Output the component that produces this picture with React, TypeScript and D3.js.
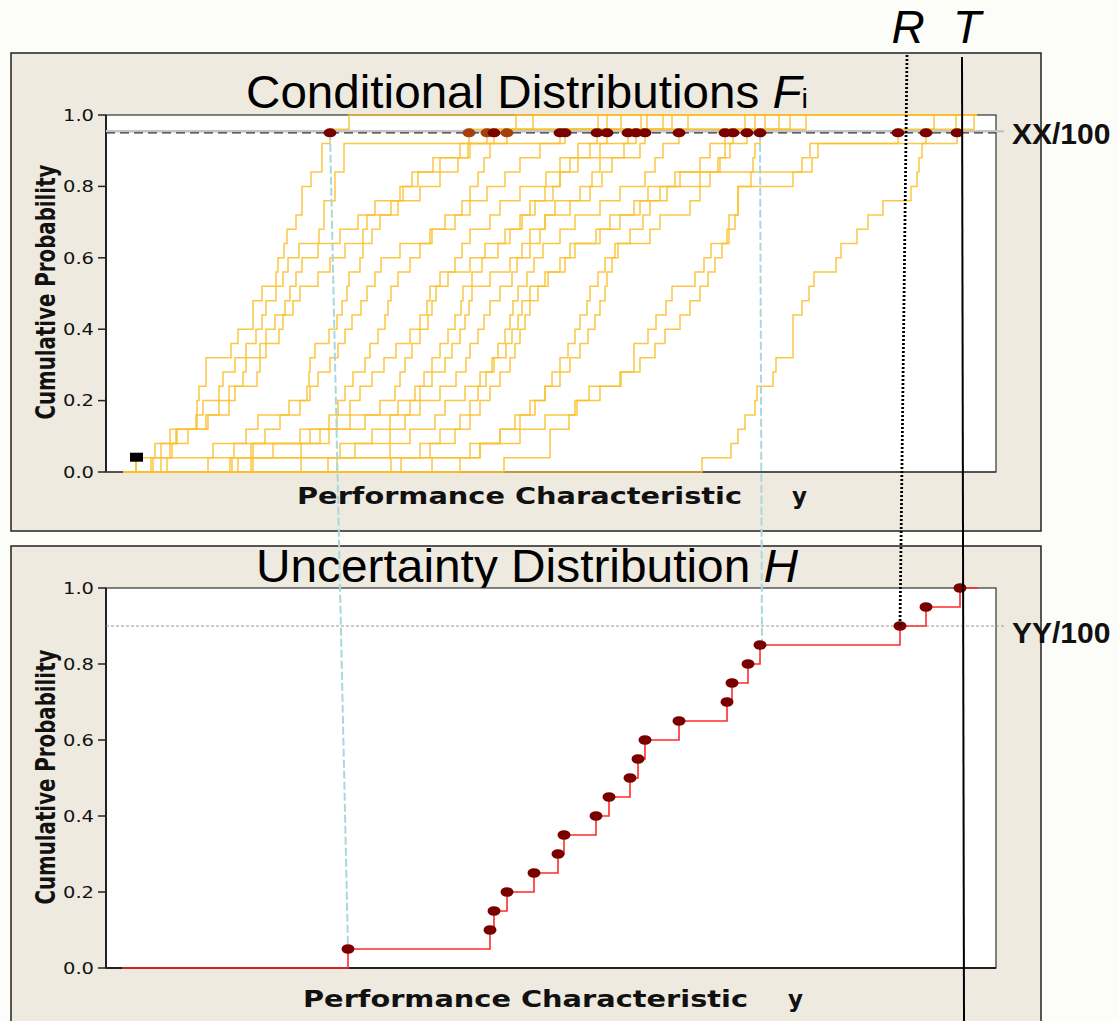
import React from 'react';
import * as d3 from 'd3';

// ---------- data (Performance Characteristic in arbitrary units) ----------
const probTicks = [0, 0.2, 0.4, 0.6, 0.8, 1.0];
const probTickLabels = ['0.0', '0.2', '0.4', '0.6', '0.8', '1.0'];
const sampleSize = 25; // each conditional ECDF has 25 observations

// Conditional distributions F_i: sorted observations of each ECDF
const fA = [36, 55, 70, 96, 97, 99, 106, 106, 131, 138, 153, 153, 162, 176, 178, 184, 187, 196, 202, 202, 211, 222, 222, 230, 249];
const fB = [51, 61, 76, 97, 103, 119, 123, 135, 146, 156, 162, 166, 176, 183, 188, 199, 219, 224, 224, 235, 235, 244, 244, 387, 433];
const fC = [53, 70, 77, 106, 119, 129, 143, 146, 160, 166, 175, 185, 190, 196, 202, 218, 240, 258, 275, 300, 318, 340, 370, 394, 498];
const fD = [108, 113, 146, 158, 189, 207, 209, 210, 215, 229, 237, 242, 247, 249, 260, 263, 263, 267, 291, 303, 312, 333, 360, 369, 416];
const fE = [61, 72, 88, 108, 129, 135, 157, 160, 166, 179, 183, 193, 200, 218, 230, 245, 272, 280, 298, 320, 340, 358, 368, 407, 507];
const fF = [67, 134, 165, 180, 200, 210, 218, 230, 238, 245, 252, 261, 267, 275, 281, 300, 330, 345, 362, 370, 378, 384, 390, 460, 521];
const fG = [130, 151, 200, 229, 238, 245, 253, 265, 270, 278, 285, 288, 291, 298, 310, 320, 332, 355, 370, 387, 405, 420, 440, 465, 541];
const fH = [132, 153, 220, 237, 250, 260, 272, 284, 296, 310, 320, 327, 330, 340, 355, 362, 370, 390, 400, 420, 446, 460, 478, 497, 547];
const fI = [138, 173, 210, 250, 280, 295, 300, 305, 312, 320, 328, 332, 336, 348, 370, 385, 410, 420, 430, 445, 460, 470, 490, 507, 563];
const fJ = [151, 201, 229, 265, 298, 315, 324, 332, 340, 348, 355, 361, 363, 372, 382, 398, 405, 422, 435, 453, 460, 478, 500, 528, 572];
const fK = [153, 240, 272, 290, 310, 320, 332, 345, 352, 360, 365, 369, 372, 390, 410, 422, 430, 445, 470, 490, 502, 512, 524, 536, 588];
const fL = [201, 255, 290, 305, 320, 340, 356, 366, 370, 378, 384, 390, 400, 412, 417, 430, 440, 445, 455, 480, 492, 500, 540, 545, 645];
const fM = [228, 290, 310, 335, 345, 365, 380, 392, 398, 405, 410, 413, 418, 427, 434, 443, 460, 475, 500, 520, 545, 555, 563, 579, 655];
const fN = [237, 320, 340, 360, 370, 378, 386, 394, 406, 412, 418, 422, 430, 448, 460, 470, 500, 520, 540, 560, 580, 600, 610, 625, 679];
const fO = [291, 330, 355, 370, 380, 390, 400, 410, 415, 420, 425, 430, 438, 445, 465, 475, 496, 510, 534, 548, 600, 618, 625, 633, 706];
const fP = [301, 370, 400, 420, 435, 445, 452, 460, 468, 475, 480, 487, 490, 498, 505, 515, 550, 560, 590, 600, 610, 620, 630, 647, 665];
const fQ = [360, 380, 400, 415, 430, 445, 460, 470, 480, 488, 495, 500, 505, 507, 512, 518, 530, 543, 550, 567, 575, 712, 718, 798, 834];
const fR = [404, 450, 450, 469, 477, 489, 521, 534, 534, 548, 556, 566, 572, 595, 604, 611, 627, 629, 638, 638, 651, 653, 655, 660, 690];
const fS = [332, 380, 420, 445, 475, 500, 520, 540, 555, 565, 580, 590, 600, 608, 615, 622, 629, 635, 638, 638, 693, 702, 710, 857, 874];
const fT = [602, 631, 638, 645, 655, 657, 673, 676, 693, 693, 693, 702, 709, 714, 736, 741, 757, 768, 783, 811, 817, 819, 822, 826, 856];
const conditionalCurves = [fA, fB, fC, fD, fE, fF, fG, fH, fI, fJ, fK, fL, fM, fN, fO, fP, fQ, fR, fS, fT];
const orangeCurveIdx = [1, 3, 4];

// Uncertainty distribution H: the 20 quantiles, sorted
const hQuantiles = [248, 390, 394, 407, 434, 458, 464, 496, 509, 530, 538, 545, 579, 627, 632, 648, 660, 800, 826, 860];

const curveStart = 23;
const curveEnd = 877;
const xxLevel = 0.95;
const yyLevel = 0.9;
const firstSampleMarker = { x: 36, p: 0.04 };
const cyanLinks = [
  { fromX: 230, toX: 248, toP: 0.05 },
  { fromX: 660, toX: 662, toP: 0.85 },
];
const rLine = { topX: 807, bottomX: 800, bottomP: 0.9 };
const tLine = { topX: 862, bottomX: 864 };

export default function App() {
  const W = 1119, Hh = 1021;
  const plotL = 106, plotR = 996;
  const top = { panelY: 53, panelH: 478, plotT: 115, plotB: 472 };
  const bot = { panelY: 546, panelH: 520, plotT: 588, plotB: 968 };

  const x = d3.scaleLinear().domain([6, 896]).range([plotL, plotR]);
  const yTop = d3.scaleLinear().domain([0, 1]).range([top.plotB, top.plotT]);
  const yBot = d3.scaleLinear().domain([0, 1]).range([bot.plotB, bot.plotT]);

  const stepTop = d3.line<[number, number]>().x(d => x(d[0])).y(d => yTop(d[1])).curve(d3.curveStepAfter);
  const stepBot = d3.line<[number, number]>().x(d => x(d[0])).y(d => yBot(d[1])).curve(d3.curveStepAfter);

  const curvePts = (vals: number[]): [number, number][] => {
    const pts: [number, number][] = [[curveStart, 0]];
    vals.forEach((v, i) => pts.push([v, (i + 1) / sampleSize]));
    pts.push([curveEnd, 1]);
    return pts;
  };
  const hPts: [number, number][] = [[curveStart - 1, 0]];
  hQuantiles.forEach((v, i) => hPts.push([v, (i + 1) / hQuantiles.length]));
  hPts.push([curveEnd + 1, 1]);

  const panelFill = '#eeeae0';
  const titleFont = '"Liberation Sans", Arial, sans-serif';
  const tickFont = '"DejaVu Sans", Verdana, sans-serif';

  const yAxis = (ys: d3.ScaleLinear<number, number>, key: string) => (
    <g key={key}>
      {probTicks.map((t, i) => (
        <g key={i}>
          <line x1={plotL - 8} x2={plotL} y1={ys(t)} y2={ys(t)} stroke="#222" strokeWidth={1.5} />
          <text x={plotL - 12} y={ys(t)} dy="0.36em" textAnchor="end" fontFamily={tickFont} fontSize={16}
            textLength={31} lengthAdjust="spacingAndGlyphs" fill="#111">{probTickLabels[i]}</text>
        </g>
      ))}
    </g>
  );

  return (
    <svg width={W} height={Hh} style={{ position: 'absolute', left: 0, top: 0, background: '#fcfcf8' }}>
      {/* panels */}
      <rect x={11} y={top.panelY} width={1030} height={top.panelH} fill={panelFill} stroke="#222" strokeWidth={1.5} />
      <rect x={11} y={bot.panelY} width={1030} height={bot.panelH} fill={panelFill} stroke="#222" strokeWidth={1.5} />

      {/* titles */}
      <g transform={`translate(527,108) scale(1.035,1)`}>
        <text x={0} y={0} textAnchor="middle" fontFamily={titleFont} fontSize={46} fill="#000">
          Conditional Distributions <tspan fontStyle="italic">F</tspan><tspan fontSize={28}>i</tspan>
        </text>
      </g>
      <g transform={`translate(527,582) scale(1.04,1)`}>
        <text x={0} y={0} textAnchor="middle" fontFamily={titleFont} fontSize={46} fill="#000">
          Uncertainty Distribution <tspan fontStyle="italic">H</tspan>
        </text>
      </g>

      {/* plot areas */}
      <rect x={plotL} y={top.plotT} width={plotR - plotL} height={top.plotB - top.plotT} fill="#fff" stroke="#333" strokeWidth={1.2} />
      <rect x={plotL} y={bot.plotT} width={plotR - plotL} height={bot.plotB - bot.plotT} fill="#fff" stroke="#333" strokeWidth={1.2} />
      <line x1={plotL} x2={plotL} y1={top.plotT} y2={top.plotB} stroke="#222" strokeWidth={2} />
      <line x1={plotL} x2={plotL} y1={bot.plotT} y2={bot.plotB} stroke="#222" strokeWidth={2} />
      <line x1={plotL} x2={plotR} y1={bot.plotB} y2={bot.plotB} stroke="#222" strokeWidth={2} />
      <line x1={plotL} x2={plotR} y1={top.plotB} y2={top.plotB} stroke="#444" strokeWidth={1.5} />

      {yAxis(yTop, 'ytop')}
      {yAxis(yBot, 'ybot')}

      {/* y axis titles */}
      <text transform={`translate(55,292) rotate(-90)`} textAnchor="middle" fontFamily={tickFont} fontWeight="bold"
        fontSize={26} textLength={255} lengthAdjust="spacingAndGlyphs" fill="#111">Cumulative Probability</text>
      <text transform={`translate(55,777) rotate(-90)`} textAnchor="middle" fontFamily={tickFont} fontWeight="bold"
        fontSize={26} textLength={255} lengthAdjust="spacingAndGlyphs" fill="#111">Cumulative Probability</text>

      {/* x axis titles */}
      <text x={297} y={504} fontFamily={tickFont} fontWeight="bold" fontSize={23} textLength={445}
        lengthAdjust="spacingAndGlyphs" fill="#111">Performance Characteristic</text>
      <text x={792} y={504} fontFamily={tickFont} fontWeight="bold" fontSize={23} fill="#111">y</text>
      <text x={303} y={1007} fontFamily={tickFont} fontWeight="bold" fontSize={23} textLength={445}
        lengthAdjust="spacingAndGlyphs" fill="#111">Performance Characteristic</text>
      <text x={788} y={1007} fontFamily={tickFont} fontWeight="bold" fontSize={23} fill="#111">y</text>

      {/* conditional ECDFs */}
      <g fill="none" stroke="#fbbf2a" strokeWidth={1.5} strokeOpacity={0.88}>
        {conditionalCurves.map((c, i) => <path key={i} d={stepTop(curvePts(c)) || ''} />)}
      </g>
      <line x1={x(firstSampleMarker.x)} x2={x(firstSampleMarker.x)} y1={yTop(0)} y2={yTop(firstSampleMarker.p)} stroke="#fbbf2a" strokeWidth={1.4} />
      <rect x={x(firstSampleMarker.x) - 6} y={yTop(firstSampleMarker.p) - 5} width={13} height={9} fill="#000" />

      {/* XX level */}
      <line x1={plotL} x2={1004} y1={yTop(xxLevel) - 1.5} y2={yTop(xxLevel) - 1.5} stroke="#c4c4c4" strokeWidth={2.5} />
      <line x1={plotL} x2={plotR} y1={yTop(xxLevel)} y2={yTop(xxLevel)} stroke="#333" strokeWidth={1.2} strokeDasharray="9,5" />
      <text x={1012} y={144} fontFamily={titleFont} fontWeight="bold" fontSize={30} fill="#111">XX/100</text>

      {/* YY level */}
      <line x1={plotL} x2={1004} y1={yBot(yyLevel)} y2={yBot(yyLevel)} stroke="#999" strokeWidth={1} strokeDasharray="3,2" />
      <text x={1012} y={643} fontFamily={titleFont} fontWeight="bold" fontSize={30} fill="#111">YY/100</text>

      {/* cyan connectors */}
      {cyanLinks.map((l, i) => (
        <line key={i} x1={x(l.fromX)} y1={yTop(xxLevel)} x2={x(l.toX)} y2={yBot(l.toP)}
          stroke="#a9d8dc" strokeWidth={2} strokeDasharray="8,3" />
      ))}

      {/* quantile dots in top chart */}
      {conditionalCurves.map((c, i) => (
        <ellipse key={i} cx={x(c[sampleSize - 2])} cy={yTop(xxLevel)} rx={6.5} ry={4.5}
          fill={orangeCurveIdx.includes(i) ? '#a3400e' : '#7a0000'} />
      ))}

      {/* uncertainty distribution H */}
      <path d={stepBot(hPts) || ''} fill="none" stroke="#ff2a2a" strokeWidth={1.6} />
      {hQuantiles.map((v, i) => (
        <ellipse key={i} cx={x(v)} cy={yBot((i + 1) / hQuantiles.length)} rx={6.5} ry={4.8} fill="#7a0000" />
      ))}

      {/* R and T */}
      <line x1={x(rLine.topX)} y1={55} x2={x(rLine.bottomX)} y2={yBot(rLine.bottomP)} stroke="#000" strokeWidth={2.8} strokeDasharray="2,2" />
      <line x1={x(tLine.topX)} y1={57} x2={x(tLine.bottomX)} y2={Hh} stroke="#000" strokeWidth={2} />
      <text x={908} y={43} textAnchor="middle" fontFamily={titleFont} fontStyle="italic" fontSize={46} fill="#000">R</text>
      <text x={967} y={43} textAnchor="middle" fontFamily={titleFont} fontStyle="italic" fontSize={46} fill="#000">T</text>
    </svg>
  );
}
